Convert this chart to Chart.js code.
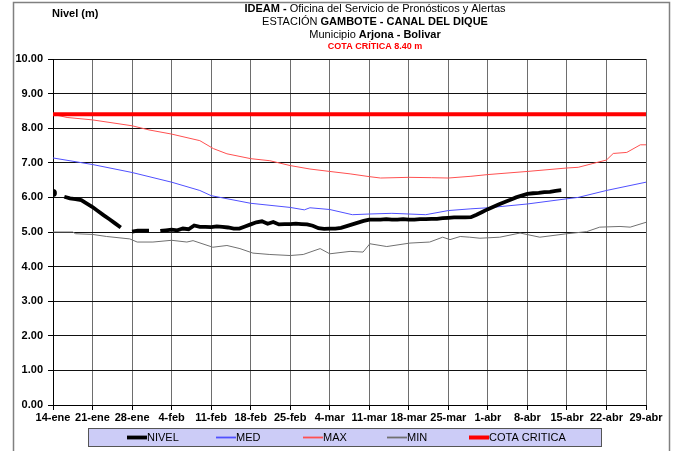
<!DOCTYPE html>
<html>
<head>
<meta charset="utf-8">
<script src="https://cdn.jsdelivr.net/npm/chart.js@4"></script>
<style>
  html, body { margin: 0; padding: 0; background: #fff; }
  #wrap { width: 677px; height: 451px; position: relative; }
</style>
</head>
<body>
<div id="wrap"><canvas id="grafico" width="677" height="451"></canvas></div>
<script>
// Etiquetas del eje x (una por semana, desde el 14-ene)
const semanas = ['14-ene','21-ene','28-ene','4-feb','11-feb','18-feb','25-feb','4-mar',
                 '11-mar','18-mar','25-mar','1-abr','8-abr','15-abr','22-abr','29-abr'];
const yTicks = [0,1,2,3,4,5,6,7,8,9,10];

// NIVEL diario (dia 0 = 14-ene), null = sin dato
const nivel = [6.13, null, 6.02, 5.97, 5.95, 5.92, 5.82, 5.72, 5.60, 5.48, 5.37, 5.25, 5.13, null,
  5.01, 5.04, 5.04, 5.04, null, 5.03, 5.05, 5.07, 5.05, 5.10, 5.08, 5.19, 5.15, 5.15, 5.14, 5.16,
  5.15, 5.13, 5.10, 5.10, 5.16, 5.22, 5.28, 5.31, 5.24, 5.29, 5.22, 5.23, 5.23, 5.24, 5.23, 5.22,
  5.18, 5.11, 5.09, 5.10, 5.10, 5.12, 5.17, 5.22, 5.27, 5.32, 5.36, 5.36, 5.36, 5.37, 5.36, 5.36,
  5.37, 5.36, 5.36, 5.37, 5.37, 5.38, 5.38, 5.40, 5.41, 5.42, 5.42, 5.42, 5.43, 5.50, 5.58, 5.66,
  5.73, 5.80, 5.87, 5.93, 6.00, 6.05, 6.10, 6.12, 6.13, 6.15, 6.16, 6.19, 6.21];

// MED (dia, valor)
const medDias = [0, 7, 14, 21, 26, 28, 35, 42, 44.5, 45.5, 49, 53, 56, 60, 63, 66, 70, 74, 77, 84, 91, 93, 98, 105];
const medVals = [7.14, 6.95, 6.72, 6.44, 6.20, 6.05, 5.83, 5.71, 5.64, 5.70, 5.65, 5.50, 5.52, 5.54, 5.52, 5.50, 5.62, 5.67, 5.70, 5.81, 5.96, 6.00, 6.20, 6.44];

// MAX
const maxDias = [0, 2.5, 7, 14, 17, 21, 26, 28.4, 30.8, 35, 38.4, 42, 45.5, 49, 52.6, 56, 58, 63, 67, 70, 74, 77, 84, 91, 93, 95.6, 98, 99.2, 101.6, 104, 105];
const maxVals = [8.40, 8.31, 8.24, 8.07, 7.95, 7.83, 7.64, 7.41, 7.26, 7.12, 7.06, 6.92, 6.82, 6.75, 6.68, 6.60, 6.56, 6.58, 6.57, 6.56, 6.61, 6.66, 6.75, 6.85, 6.87, 6.98, 7.08, 7.27, 7.30, 7.52, 7.52];

// MIN
const minDias = [0, 3.5, 4, 7, 9.5, 13.6, 14.9, 17.7, 21, 23.7, 24.8, 28.3, 30.8, 33.1, 35.4, 38.4, 42, 44.3, 47.3, 49, 52.6, 54.9, 56.1, 59.1, 63.2, 66.7, 69, 70.3, 72.1, 73.8, 75.6, 79.1, 82.7, 86.2, 91, 94.5, 96.8, 100.4, 102.2, 105];
const minVals = [5.00, 5.00, 4.95, 4.93, 4.87, 4.80, 4.71, 4.71, 4.76, 4.71, 4.75, 4.56, 4.61, 4.52, 4.39, 4.35, 4.32, 4.35, 4.52, 4.37, 4.44, 4.42, 4.66, 4.58, 4.68, 4.71, 4.85, 4.78, 4.87, 4.85, 4.82, 4.85, 4.97, 4.85, 4.95, 5.01, 5.14, 5.16, 5.14, 5.28];

// COTA CRITICA
const cotaDias = [0, 105];
const cotaVals = [8.40, 8.40];

const pares = (xs, ys) => xs.map((x, i) => ({x: x, y: ys[i]}));
const FUENTE = '"Liberation Sans", Arial, sans-serif';

// titulo con partes en negrita
const titulo = {
  id: 'titulo',
  afterDraw(chart) {
    const ctx = chart.ctx;
    const lineas = [
      {y: 9,  size: 11, parts: [['IDEAM - ', true, '#000'], ['Oficina del Servicio de Pronósticos y Alertas', false, '#000']]},
      {y: 22, size: 11, parts: [['ESTACIÓN ', false, '#000'], ['GAMBOTE - CANAL DEL DIQUE', true, '#000']]},
      {y: 35, size: 11, parts: [['Municipio ', false, '#000'], ['Arjona - Bolivar', true, '#000']]},
      {y: 47, size: 9,  parts: [['COTA CRÍTICA 8.40 m', true, '#ff0000']]}
    ];
    ctx.save();
    ctx.textBaseline = 'middle';
    ctx.textAlign = 'left';
    lineas.forEach(l => {
      let total = 0;
      l.parts.forEach(p => { ctx.font = (p[1] ? 'bold ' : '') + l.size + 'px ' + FUENTE; total += ctx.measureText(p[0]).width; });
      let x = 375 - total / 2;
      l.parts.forEach(p => {
        ctx.font = (p[1] ? 'bold ' : '') + l.size + 'px ' + FUENTE;
        ctx.fillStyle = p[2];
        ctx.fillText(p[0], x, l.y);
        x += ctx.measureText(p[0]).width;
      });
    });
    ctx.font = 'bold 11px ' + FUENTE;
    ctx.fillStyle = '#000';
    ctx.fillText('Nivel (m)', 52, 14);
    // marco exterior
    ctx.strokeStyle = '#808080';
    ctx.lineWidth = 1.5;
    ctx.strokeRect(13.5, 2.5, 656, 460);
    ctx.restore();
  }
};

// leyenda dentro de una caja lila
const leyenda = {
  id: 'leyenda',
  afterDraw(chart) {
    const ctx = chart.ctx;
    const textoX = [147, 236, 323, 407, 489];
    ctx.save();
    ctx.fillStyle = '#ccccf7';
    ctx.fillRect(88, 428, 513, 18);
    ctx.strokeStyle = '#555';
    ctx.lineWidth = 1;
    ctx.strokeRect(88.5, 428.5, 513, 18);
    ctx.font = '11px ' + FUENTE;
    ctx.textBaseline = 'middle';
    chart.data.datasets.forEach((ds, i) => {
      ctx.strokeStyle = ds.borderColor;
      ctx.lineWidth = Math.max(ds.borderWidth, 1.8);
      ctx.beginPath();
      ctx.moveTo(textoX[i] - 20, 437.5);
      ctx.lineTo(textoX[i], 437.5);
      ctx.stroke();
      ctx.fillStyle = '#000';
      ctx.fillText(ds.label, textoX[i], 437.5);
    });
    ctx.restore();
  }
};

const aislado = ctx => {
  const d = ctx.dataset.data, i = ctx.dataIndex;
  if (!d[i] || d[i].y == null) return 0;
  const prev = i > 0 ? d[i - 1].y : null, next = i < d.length - 1 ? d[i + 1].y : null;
  return (prev == null && next == null) ? 2 : 0;
};

new Chart(document.getElementById('grafico'), {
  type: 'line',
  data: {
    datasets: [
      {label: 'NIVEL', data: pares(nivel.map((v, i) => i), nivel), borderColor: '#000', backgroundColor: '#000',
       borderWidth: 3.8, pointRadius: aislado, spanGaps: false, order: 0},
      {label: 'MED', data: pares(medDias, medVals), borderColor: '#5050ff', borderWidth: 1, pointRadius: 0, order: 3},
      {label: 'MAX', data: pares(maxDias, maxVals), borderColor: '#ff5050', borderWidth: 1, pointRadius: 0, order: 2},
      {label: 'MIN', data: pares(minDias, minVals), borderColor: '#707070', borderWidth: 1, pointRadius: 0, order: 4},
      {label: 'COTA CRITICA', data: pares(cotaDias, cotaVals), borderColor: '#ff0000', borderWidth: 4, pointRadius: 0, order: 1}
    ]
  },
  options: {
    responsive: false,
    animation: false,
    layout: {padding: {left: 0, right: 31, top: 59, bottom: 0}},
    elements: {line: {tension: 0}},
    plugins: {legend: {display: false}, title: {display: false}, tooltip: {enabled: false}},
    scales: {
      x: {
        type: 'linear', min: 0, max: 105,
        afterBuildTicks: s => { s.ticks = semanas.map((t, i) => ({value: i * 7})); },
        afterFit: s => { s.height = 46; },
        ticks: {
          callback: (v) => semanas[Math.round(v / 7)],
          font: {family: FUENTE, size: 11, weight: 'bold'}, color: '#000',
          maxRotation: 0, autoSkip: false, padding: 1
        },
        grid: {color: '#6e6e6e', lineWidth: 1, tickLength: 5, tickColor: '#000'},
        border: {color: '#000', width: 1}
      },
      y: {
        min: 0, max: 10,
        afterBuildTicks: s => { s.ticks = yTicks.map(v => ({value: v})); },
        afterFit: s => { s.width = 53; },
        ticks: {
          callback: v => v.toFixed(2),
          font: {family: FUENTE, size: 11, weight: 'bold'}, color: '#000', padding: 5
        },
        grid: {color: '#111', lineWidth: 1, tickLength: 5, tickColor: '#000'},
        border: {color: '#000', width: 1}
      }
    }
  },
  plugins: [titulo, leyenda]
});
</script>
</body>
</html>
